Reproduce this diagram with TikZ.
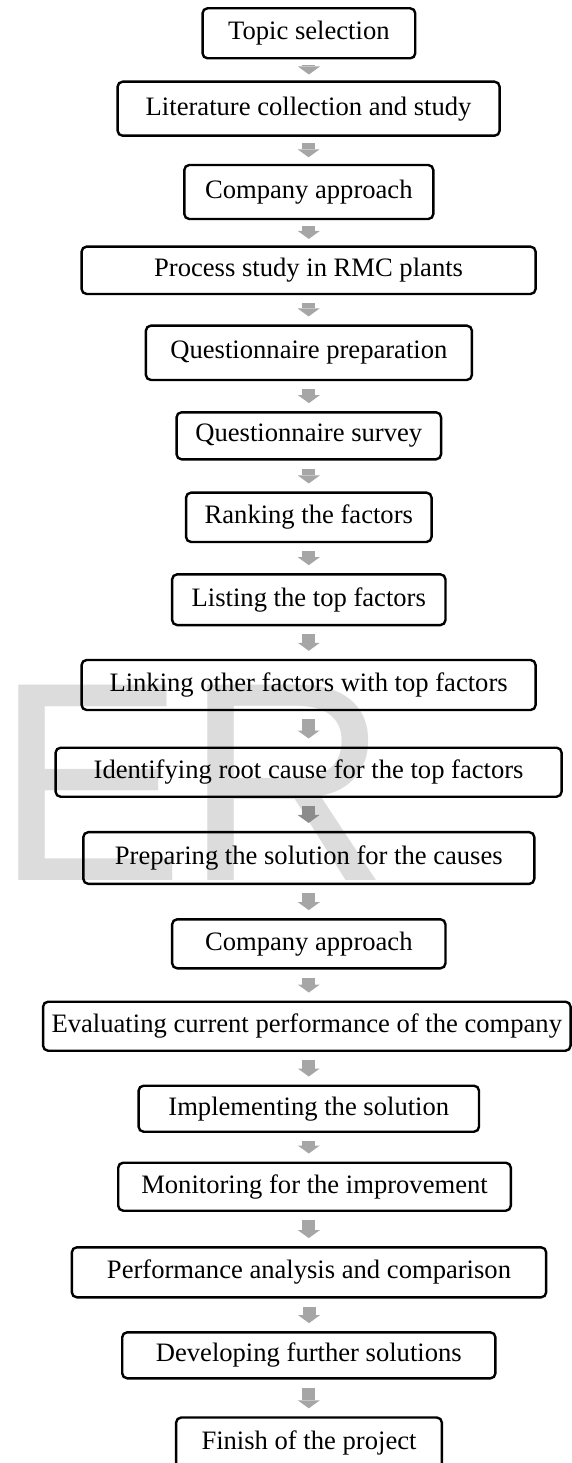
\documentclass[tikz,border=0pt]{standalone}
\usepackage{fontspec}
\setmainfont{Liberation Serif}
\newfontfamily\wmfont{Liberation Sans}
\usepackage{tikz}
\usetikzlibrary{arrows.meta}
\definecolor{arrgray}{HTML}{A6A6A6}
\definecolor{arrdark}{HTML}{8C8C8C}
\definecolor{wmgray}{HTML}{DCDCDC}

\begin{document}
\begin{tikzpicture}[x=1pt, y=-1pt,
    stage/.style={draw, line width=2.4pt, rounded corners=5pt,
      minimum height=50pt, inner sep=0pt, align=center,
      font=\fontsize{26.6}{30}\selectfont},
    arr/.style={draw=arrgray, line width=13pt,
      shorten <=8pt, shorten >=8pt,
      -{Triangle[width=22pt, length=8pt, line width=0pt]}},
    wmark/.style={text=wmgray, inner sep=0pt, anchor=base west,
      font=\wmfont\fontsize{284}{284}\selectfont}]
  \useasboundingbox (0,0) rectangle (572,1463);
  % --- Watermark behind the flow ---
  \node[wmark] (wm) at (-5,880) {ER};
  % --- Stages, top to bottom ---
  \node[stage, minimum width=212.7pt] (topic) at (308.9,33.3)
    {Topic selection};
  \node[stage, minimum width=382pt, minimum height=54pt] (lit) at (308.6,108.7)
    {Literature collection and study};
  \node[stage, minimum width=249pt, minimum height=54pt] (comp) at (308.8,192)
    {Company approach};
  \node[stage, minimum width=454pt, minimum height=47.3pt] (proc) at (308.6,270.3)
    {Process study in RMC plants};
  \node[stage, minimum width=326pt, minimum height=54.3pt] (qprep) at (308.9,352.8)
    {Questionnaire preparation};
  \node[stage, minimum width=264.5pt, minimum height=47pt] (qsurv) at (308.8,435.8)
    {Questionnaire survey};
  \node[stage, minimum width=245.5pt, minimum height=49.3pt] (rank) at (308.8,517.3)
    {Ranking the factors};
  \node[stage, minimum width=273.3pt, minimum height=50.7pt] (list) at (308.8,599.7)
    {Listing the top factors};
  \node[stage, minimum width=454pt] (link) at (308.6,685)
    {Linking other factors with top factors};
  \node[stage, minimum width=506pt, minimum height=49pt] (ident) at (308.6,772.2)
    {Identifying root cause for the top factors};
  \node[stage, minimum width=451pt, minimum height=51.7pt] (prep) at (308.8,858)
    {Preparing the solution for the causes};
  \node[stage, minimum width=273.3pt, minimum height=49pt] (comp2) at (308.8,943.8)
    {Company approach};
  \node[stage, minimum width=527.5pt, minimum height=49pt] (eval) at (306.8,1026.2)
    {Evaluating current performance of the company};
  \node[stage, minimum width=340.4pt, minimum height=46pt] (impl) at (308.8,1108.7)
    {Implementing the solution};
  \node[stage, minimum width=392.6pt, minimum height=48pt] (mon) at (314.5,1186.7)
    {Monitoring for the improvement};
  \node[stage, minimum width=474.3pt] (perf) at (309,1272.3)
    {Performance analysis and comparison};
  \node[stage, minimum width=373.2pt, minimum height=46pt] (dev) at (308.8,1355.3)
    {Developing further solutions};
  \node[stage, minimum width=265.7pt, minimum height=51pt] (fin) at (309,1443)
    {Finish of the project};
  % --- Arrows ---
  \draw[arr, shorten <=6pt, shorten >=6pt] (topic.south) -- (topic.south |- lit.north);
  \draw[arr, shorten <=6pt, shorten >=6.5pt] (lit.south) -- (lit.south |- comp.north);
  \draw[arr, shorten <=6pt, shorten >=6.5pt] (comp.south) -- (comp.south |- proc.north);
  \draw[arr] (proc.south)  -- (proc.south |- qprep.north);
  \draw[arr] (qprep.south) -- (qprep.south |- qsurv.north);
  \draw[arr] (qsurv.south) -- (qsurv.south |- rank.north);
  \draw[arr] (rank.south)  -- (rank.south |- list.north);
  \draw[arr] (list.south)  -- (list.south |- link.north);
  \draw[arr] (link.south)  -- (link.south |- ident.north);
  \draw[arr, draw=arrdark] (ident.south) -- (ident.south |- prep.north);
  \draw[arr] (prep.south)  -- (prep.south |- comp2.north);
  \draw[arr] (comp2.south) -- (comp2.south |- eval.north);
  \draw[arr] (comp2.south |- eval.south) -- (comp2.south |- impl.north);
  \draw[arr] (impl.south)  -- (impl.south |- mon.north);
  \draw[arr] (impl.south |- mon.south) -- (impl.south |- perf.north);
  \draw[arr] (perf.south)  -- (perf.south |- dev.north);
  \draw[arr] (dev.south)   -- (dev.south |- fin.north);
\end{tikzpicture}
\end{document}
